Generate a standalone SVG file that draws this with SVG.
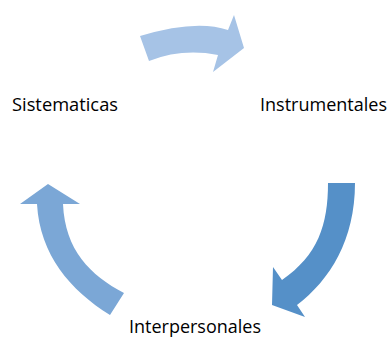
<svg xmlns="http://www.w3.org/2000/svg" width="390" height="337" viewBox="0 0 390 337">
<style>
text{font-family:"Open Sans","Liberation Sans",Arial,sans-serif;font-size:18px;fill:#000}
</style>
<rect width="390" height="337" fill="#fff"/>
<g id="connectors">
<path id="arrow-top" d="M140,36 Q196,19 228,30 L234,15 L244,48 L213,72 L218,55 Q182,48 149,61 Z" fill="#A6C3E6"/>
<path id="arrow-right" d="M328,183 L355,183 C355,240 330,280 297,305 L305,317 L272,305 L273,267 L282,280 C318,255 328,225 328,183 Z" fill="#5590C8"/>
<path id="arrow-left" d="M48,184 L80,204 L63,204 C65,250 90,275 124,293 L110,315 C70,290 40,255 37,204 L20,204 Z" fill="#7BA7D6"/>
</g>
<g id="node-sistematicas"><text x="12" y="111" textLength="106" lengthAdjust="spacingAndGlyphs">Sistematicas</text></g>
<g id="node-instrumentales"><text x="260" y="111" textLength="127" lengthAdjust="spacingAndGlyphs">Instrumentales</text></g>
<g id="node-interpersonales"><text x="129" y="333" textLength="132" lengthAdjust="spacingAndGlyphs">Interpersonales</text></g>
</svg>
